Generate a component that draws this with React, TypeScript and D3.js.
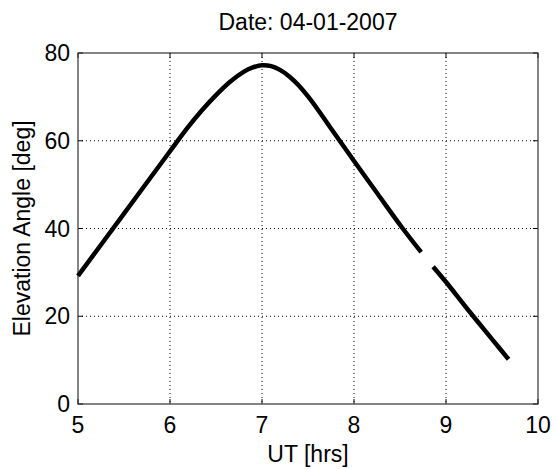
import * as d3 from "d3";
import { useEffect } from "react";

// UT hours and elevation angle (deg); null marks the gap in the track
const hours = [5, 5.5, 6, 6.2, 6.35, 6.5, 6.65, 6.8, 6.9, 7, 7.1, 7.2, 7.3, 7.4, 7.5, 7.6, 7.75, 8, 8.26, 8.53, 8.73, 8.8, 8.86, 9, 9.25, 9.5, 9.68];
const elevation = [29.2, 43.4, 57.6, 63.2, 67, 70.4, 73.4, 75.7, 76.7, 77.2, 77.0, 76.1, 74.6, 72.6, 70.1, 67.3, 62.8, 55.4, 47.8, 40, 34.6, null, 31.3, 27.8, 21.2, 14.8, 10.2];
const xTicks = [5, 6, 7, 8, 9, 10];
const yTicks = [0, 20, 40, 60, 80];

const W = 558;
const H = 469;
const m = { left: 78, right: 20, top: 53, bottom: 65 };
const font = "Liberation Sans, Arial, sans-serif";

const App = () => {
  useEffect(() => {
    document.body.style.margin = "0";
  }, []);

  const x = d3.scaleLinear().domain([5, 10]).range([m.left, W - m.right]);
  const y = d3.scaleLinear().domain([0, 80]).range([H - m.bottom, m.top]);

  const pts = hours.map((h, i) => ({ h, v: elevation[i] }));
  const line = d3.line<{ h: number; v: number | null }>()
    .defined((d) => d.v !== null)
    .x((d) => x(d.h))
    .y((d) => y(d.v as number))
    .curve(d3.curveCatmullRom.alpha(0.5));

  const x0 = x(5), x1 = x(10), y0 = y(0), y1 = y(80);

  return (
    <svg width={W} height={H} style={{ display: "block", background: "#fff" }} fontFamily={font}>
      {/* grid */}
      {xTicks.slice(1, -1).map((t) => (
        <line key={"gx" + t} x1={x(t)} x2={x(t)} y1={y1} y2={y0} stroke="#000" strokeWidth={1} strokeDasharray="1,3" />
      ))}
      {yTicks.slice(1, -1).map((t) => (
        <line key={"gy" + t} x1={x0} x2={x1} y1={y(t)} y2={y(t)} stroke="#000" strokeWidth={1} strokeDasharray="1,3" />
      ))}
      {/* ticks inside */}
      {xTicks.map((t) => (
        <g key={"tx" + t}>
          <line x1={x(t)} x2={x(t)} y1={y0} y2={y0 - 5} stroke="#000" />
          <line x1={x(t)} x2={x(t)} y1={y1} y2={y1 + 5} stroke="#000" />
          <text x={x(t)} y={y0 + 12} textAnchor="middle" dominantBaseline="hanging" fontSize={23}>{t}</text>
        </g>
      ))}
      {yTicks.map((t) => (
        <g key={"ty" + t}>
          <line x1={x0} x2={x0 + 5} y1={y(t)} y2={y(t)} stroke="#000" />
          <line x1={x1} x2={x1 - 5} y1={y(t)} y2={y(t)} stroke="#000" />
          <text x={x0 - 8} y={y(t)} textAnchor="end" dominantBaseline="central" fontSize={23}>{t}</text>
        </g>
      ))}
      <rect x={x0} y={y1} width={x1 - x0} height={y0 - y1} fill="none" stroke="#333" strokeWidth={1.2} />
      <path d={line(pts) || ""} fill="none" stroke="#000" strokeWidth={4.5} strokeLinejoin="round" />
      <text x={(x0 + x1) / 2} y={30} textAnchor="middle" fontSize={23}>Date: 04-01-2007</text>
      <text x={(x0 + x1) / 2} y={462} textAnchor="middle" fontSize={23}>UT [hrs]</text>
      <text transform={`translate(30,${(y0 + y1) / 2}) rotate(-90)`} textAnchor="middle" fontSize={23}>Elevation Angle [deg]</text>
    </svg>
  );
};

export default App;
